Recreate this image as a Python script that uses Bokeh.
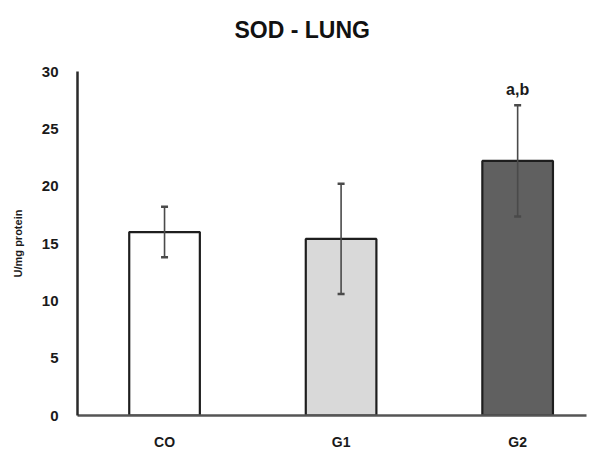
from bokeh.plotting import figure
from bokeh.models import ColumnDataSource, Whisker, TeeHead, Range1d, FixedTicker, Title
from bokeh.core.properties import value
from bokeh.embed import file_html
from bokeh.resources import INLINE

title_text = "SOD - LUNG"
groups = ["CO", "G1", "G2"]
means = [16.0, 15.4, 22.2]
errors = [2.2, 4.8, 4.85]
fills = ["#ffffff", "#d9d9d9", "#606060"]
sig_labels = ["", "", "a,b"]
y_ticks = [0, 5, 10, 15, 20, 25, 30]

xs = list(range(len(groups)))
upper = [m + e for m, e in zip(means, errors)]
lower = [m - e for m, e in zip(means, errors)]

src = ColumnDataSource(dict(x=xs, top=means, upper=upper, lower=lower,
                            fill=fills, sig=sig_labels))

FONT = "Liberation Sans"

p = figure(width=588, height=452, output_backend="svg", toolbar_location=None,
           x_range=Range1d(-0.493, 2.39), y_range=Range1d(0, 30),
           min_border_left=77, min_border_right=2, min_border_top=71,
           min_border_bottom=30)
p.outline_line_color = None
p.xgrid.grid_line_color = None
p.ygrid.grid_line_color = None

# main title (outermost panel)
p.title.text = title_text
p.title.align = "left"
p.title.offset = 157
p.title.text_font = FONT
p.title.text_font_style = "bold"
p.title.text_font_size = "23px"
p.title.text_color = "#111111"
p.title.vertical_align = "top"
p.title.standoff = 8

# invisible spacer between the title and the frame
spacer = Title(text=" ", text_font_size="10px", standoff=10)
p.add_layout(spacer, "above")

p.vbar(x="x", top="top", bottom=0, width=0.4, source=src, fill_color="fill",
       line_color="#1e1e1e", line_width=2.2)

w = Whisker(base="x", upper="upper", lower="lower", source=src, level="overlay",
            line_color="#4a4a4a", line_width=1.6,
            upper_head=TeeHead(size=7, line_color="#4a4a4a", line_width=2.5),
            lower_head=TeeHead(size=7, line_color="#4a4a4a", line_width=2.5))
p.add_layout(w)

p.text(x="x", y="upper", text="sig", source=src, text_align="center",
       text_baseline="alphabetic", y_offset=-16, text_font=value(FONT),
       text_font_style="bold", text_font_size="16px", text_color="#1a1a1a")

# x axis
p.xaxis.ticker = FixedTicker(ticks=xs)
p.xaxis.major_label_overrides = {i: g for i, g in enumerate(groups)}
p.xaxis.major_tick_line_color = None
p.xaxis.minor_tick_line_color = None
p.xaxis.axis_line_color = "#555555"
p.xaxis.axis_line_width = 2.5
p.xaxis.major_label_text_font = FONT
p.xaxis.major_label_text_font_style = "bold"
p.xaxis.major_label_text_font_size = "14px"
p.xaxis.major_label_text_color = "#1a1a1a"
p.xaxis.major_label_standoff = 12

# y axis
p.yaxis.ticker = FixedTicker(ticks=y_ticks)
p.yaxis.major_tick_line_color = None
p.yaxis.minor_tick_line_color = None
p.yaxis.axis_line_color = "#2a2a2a"
p.yaxis.axis_line_width = 2.5
p.yaxis.major_label_text_font = FONT
p.yaxis.major_label_text_font_style = "bold"
p.yaxis.major_label_text_font_size = "15px"
p.yaxis.major_label_text_color = "#1a1a1a"
p.yaxis.major_label_standoff = 13
p.yaxis.axis_label = "U/mg protein"
p.yaxis.axis_label_text_font = FONT
p.yaxis.axis_label_text_font_style = "bold"
p.yaxis.axis_label_text_font_size = "11px"
p.yaxis.axis_label_text_color = "#1a1a1a"
p.yaxis.axis_label_standoff = 15

open("out.html", "w").write(file_html(p, INLINE))
